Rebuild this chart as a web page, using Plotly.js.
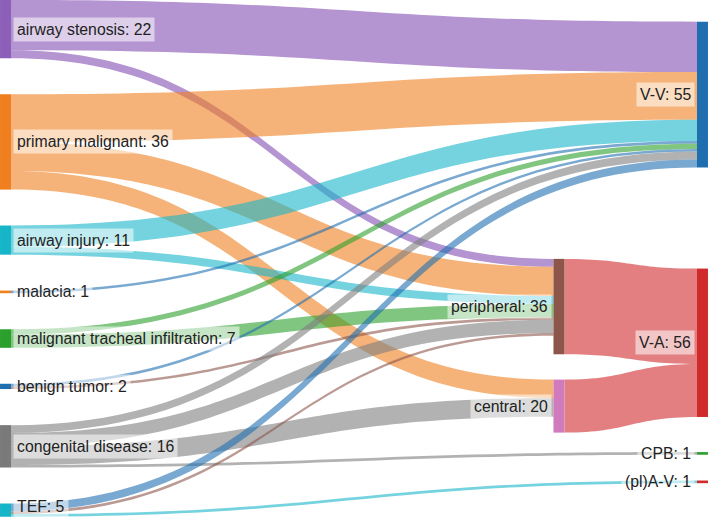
<!DOCTYPE html>
<html>
<head>
<meta charset="utf-8">
<script src="https://cdn.plot.ly/plotly-3.0.1.min.js"></script>
<style>
  html, body { margin: 0; padding: 0; background: #fff; }
  #chart { width: 708px; height: 517px; }
</style>
</head>
<body>
<div id="chart"></div>
<script>
// nodes: diseases (left), cannulation site (middle), ECMO mode (right)
var nodeLabels = [
    'airway stenosis: 22', 'primary malignant: 36', 'airway injury: 11', 'malacia: 1',
    'malignant tracheal infiltration: 7', 'benign tumor: 2', 'congenital disease: 16', 'TEF: 5',
    'peripheral: 36', 'central: 20',
    'V-V: 55', 'V-A: 56', 'CPB: 1', '(pl)A-V: 1'
];
var nodeColors = [
    '#8c5fb8', '#f0801f', '#17b5c8', '#f0801f',
    '#2ca02c', '#1f6fb0', '#7a7a7a', '#17b5c8',
    '#8c564b', '#d17abd',
    '#1f6fb0', '#d02a2c', '#2ca02c', '#d02a2c'
];
// node centres
var nodeX = [0.0078, 0.0078, 0.0078, 0.0078, 0.0078, 0.0078, 0.0078, 0.0078,
             0.7895, 0.7895,
             0.9922, 0.9922, 0.9922, 0.9922];
var nodeY = [0.0563, 0.2745, 0.4644, 0.5646, 0.6548, 0.7474, 0.8633, 0.9867,
             0.593, 0.7855,
             0.183, 0.663, 0.877, 0.932];

var linkSource = [0, 0, 1, 1, 1, 2, 2, 3, 4, 4, 5, 5, 6, 6, 6, 6, 7, 7, 7, 8, 9];
var linkTarget = [10, 8, 10, 8, 9, 10, 8, 10, 10, 8, 10, 8, 10, 8, 9, 12, 10, 8, 13, 11, 11];
var linkValue  = [19, 3, 18, 11, 7, 8, 3, 1, 2, 5, 1, 1, 3, 5, 7, 1, 3, 1, 1, 36, 20];
var linkColors = [
    'rgba(148,103,189,0.7)', 'rgba(148,103,189,0.7)',
    'rgba(240,128,31,0.6)', 'rgba(240,128,31,0.6)', 'rgba(240,128,31,0.6)',
    'rgba(23,181,200,0.6)', 'rgba(23,181,200,0.6)',
    'rgba(31,111,176,0.6)',
    'rgba(44,160,44,0.6)', 'rgba(44,160,44,0.6)',
    'rgba(31,111,176,0.6)', 'rgba(140,86,75,0.6)',
    'rgba(127,127,127,0.6)', 'rgba(127,127,127,0.6)', 'rgba(127,127,127,0.6)', 'rgba(127,127,127,0.6)',
    'rgba(31,111,176,0.6)', 'rgba(140,86,75,0.6)', 'rgba(23,181,200,0.6)',
    'rgba(208,42,44,0.6)', 'rgba(208,42,44,0.6)'
];

var W = 708, H = 517;
var labelGap = 7.3; // px from node centre to label box

// labels as annotations so the middle column can sit left of its nodes, with a light box
var annotations = nodeLabels.map(function(txt, i) {
    var onLeft = nodeX[i] < 0.5;
    return {
        xref: 'paper', yref: 'paper',
        x: nodeX[i] + (onLeft ? labelGap : -labelGap) / W,
        y: Math.max(1 - nodeY[i], 11 / H),   // keep bottom label inside the page
        xanchor: onLeft ? 'left' : 'right',
        yanchor: 'middle',
        text: txt,
        showarrow: false,
        bgcolor: 'rgba(255,255,255,0.55)',
        borderpad: 3,
        font: { family: 'Liberation Sans, Arial, sans-serif', size: 15.8, color: '#222' }
    };
});

var data = [{
    type: 'sankey',
    arrangement: 'fixed',
    domain: { x: [0, 1], y: [0, 1] },
    node: {
        label: nodeLabels.map(function() { return ''; }),
        color: nodeColors,
        x: nodeX,
        y: nodeY,
        pad: 36,
        thickness: 11,
        line: { width: 0 }
    },
    link: {
        source: linkSource,
        target: linkTarget,
        value: linkValue,
        color: linkColors,
        line: { width: 0 }
    }
}];

var layout = {
    width: W,
    height: H,
    margin: { l: 0, r: 0, t: 0, b: 0 },
    paper_bgcolor: '#fff',
    annotations: annotations
};

Plotly.newPlot('chart', data, layout, { displayModeBar: false, staticPlot: true });
</script>
</body>
</html>
